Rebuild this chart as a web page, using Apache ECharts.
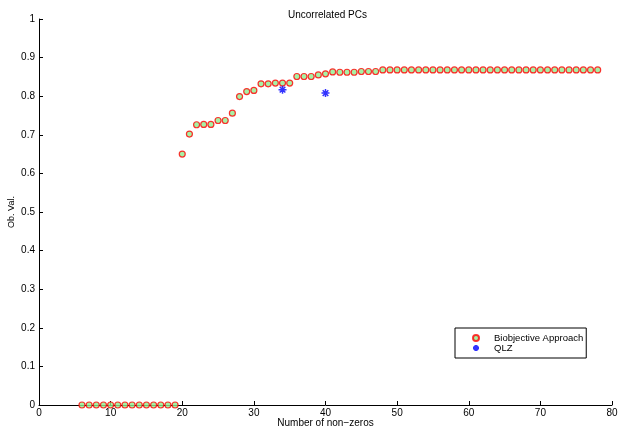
<!DOCTYPE html>
<html>
<head>
<meta charset="utf-8">
<script src="https://cdn.jsdelivr.net/npm/echarts@6/dist/echarts.min.js"></script>
<style>
  html, body { margin: 0; padding: 0; background: #fff; }
  #main { width: 620px; height: 430px; }
</style>
</head>
<body>
<div id="main"></div>
<script>
// number of non-zeros and objective values for the biobjective approach
var bioX = [6, 7, 8, 9, 10, 11, 12, 13, 14, 15, 16, 17, 18, 19,
  20, 21, 22, 23, 24, 25, 26, 27, 28, 29, 30, 31, 32, 33, 34, 35,
  36, 37, 38, 39, 40, 41, 42, 43, 44, 45, 46, 47, 48, 49, 50, 51,
  52, 53, 54, 55, 56, 57, 58, 59, 60, 61, 62, 63, 64, 65, 66, 67,
  68, 69, 70, 71, 72, 73, 74, 75, 76, 77, 78];
var bioY = [0, 0, 0, 0, 0, 0, 0, 0, 0, 0, 0, 0, 0, 0,
  0.650, 0.702, 0.726, 0.727, 0.727, 0.737, 0.737, 0.756, 0.799, 0.812, 0.815, 0.832, 0.832, 0.834, 0.834, 0.834,
  0.851, 0.851, 0.851, 0.855, 0.858, 0.863, 0.862, 0.862, 0.862, 0.864, 0.864, 0.864, 0.868, 0.868, 0.868, 0.868,
  0.868, 0.868, 0.868, 0.868, 0.868, 0.868, 0.868, 0.868, 0.868, 0.868, 0.868, 0.868, 0.868, 0.868, 0.868, 0.868,
  0.868, 0.868, 0.868, 0.868, 0.868, 0.868, 0.868, 0.868, 0.868, 0.868, 0.868];

// QLZ points
var qlzX = [34, 40];
var qlzY = [0.817, 0.808];

var xTicks = [0, 80, 10];
var yTicks = [0, 1, 0.1];

function pairs(xs, ys) {
  return xs.map(function (x, i) { return [x, ys[i]]; });
}

var fontName = 'Liberation Sans, Arial, sans-serif';
var asterisk = 'path://M0,-5L0,5M-5,0L5,0M-3.5,-3.5L3.5,3.5M-3.5,3.5L3.5,-3.5';

var chartDom = document.getElementById('main');
var myChart = echarts.init(chartDom);
var option;

option = {
  backgroundColor: '#fff',
  animation: false,
  textStyle: { fontFamily: fontName },
  title: {
    text: 'Uncorrelated PCs',
    left: 283,
    top: 5,
    textStyle: { fontSize: 10, fontWeight: 'normal', color: '#000', fontFamily: fontName }
  },
  grid: { left: 39, right: 8, top: 19, bottom: 25, containLabel: false, outerBoundsMode: 'none' },
  legend: {
    orient: 'vertical',
    left: 455,
    top: 328,
    padding: [5, 3, 5, 17],
    itemWidth: 6,
    itemHeight: 6,
    itemGap: 0,
    borderColor: '#000',
    borderWidth: 1,
    textStyle: { fontSize: 9.5, lineHeight: 9, color: '#000', padding: [0, 0, 0, 10], fontFamily: fontName },
    data: [
      { name: 'Biobjective Approach', icon: 'circle' },
      { name: 'QLZ', icon: asterisk }
    ]
  },
  xAxis: {
    type: 'value',
    min: xTicks[0],
    max: xTicks[1],
    interval: xTicks[2],
    name: 'Number of non\u2212zeros',
    nameLocation: 'middle',
    nameGap: 13,
    nameMoveOverlap: false,
    nameTextStyle: { fontSize: 10, color: '#000' },
    axisLine: { onZero: false, lineStyle: { color: '#000', width: 1 } },
    axisTick: { inside: true, length: 4, lineStyle: { color: '#000' } },
    axisLabel: { fontSize: 10, color: '#000', margin: 3 },
    splitLine: { show: false }
  },
  yAxis: {
    type: 'value',
    min: yTicks[0],
    max: yTicks[1],
    interval: yTicks[2],
    name: 'Ob. Val.',
    nameLocation: 'middle',
    nameGap: 23,
    nameMoveOverlap: false,
    nameTextStyle: { fontSize: 9, color: '#000' },
    axisLine: { show: true, onZero: false, lineStyle: { color: '#000', width: 1 } },
    axisTick: { show: true, inside: true, length: 4, lineStyle: { color: '#000' } },
    axisLabel: {
      fontSize: 10,
      color: '#000',
      margin: 4,
      formatter: function (v) { return String(Math.round(v * 10) / 10); }
    },
    splitLine: { show: false }
  },
  series: [
    {
      name: 'Biobjective Approach',
      type: 'scatter',
      symbol: 'circle',
      symbolSize: 6,
      itemStyle: { color: '#90ee90', borderColor: '#ff0000', borderWidth: 1.2 },
      data: pairs(bioX, bioY)
    },
    {
      name: 'QLZ',
      type: 'scatter',
      symbol: asterisk,
      symbolSize: 8,
      itemStyle: { color: 'rgba(0,0,0,0)', borderColor: '#0000ff', borderWidth: 1.5 },
      data: pairs(qlzX, qlzY)
    }
  ]
};

option && myChart.setOption(option);

window.addEventListener('resize', function () {
  myChart.resize();
});
</script>
</body>
</html>
